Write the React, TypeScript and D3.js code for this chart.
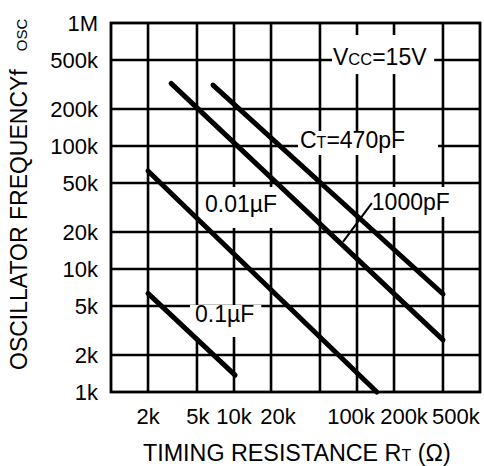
import React, { useEffect, useRef } from "react";
import * as d3 from "d3";

const W = 484;
const H = 466;

// axis ticks
const gridValues = [2e3, 5e3, 1e4, 2e4, 5e4, 1e5, 2e5, 5e5];
const xTickValues = [2e3, 5e3, 1e4, 2e4, 1e5, 2e5, 5e5];
const xTickLabels = ["2k", "5k", "10k", "20k", "100k", "200k", "500k"];
const yTickValues = [1e6, 5e5, 2e5, 1e5, 5e4, 2e4, 1e4, 5e3, 2e3, 1e3];
const yTickLabels = ["1M", "500k", "200k", "100k", "50k", "20k", "10k", "5k", "2k", "1k"];

// series: timing resistance RT (ohm) -> oscillator frequency (Hz)
const ct470pF = [
  { r: 6.75e3, f: 313e3 },
  { r: 500e3, f: 6.26e3 },
];
const ct1000pF = [
  { r: 3.08e3, f: 323e3 },
  { r: 500e3, f: 2.65e3 },
];
const ct001uF = [
  { r: 2e3, f: 62.6e3 },
  { r: 145e3, f: 1e3 },
];
const ct01uF = [
  { r: 2e3, f: 6.34e3 },
  { r: 10.2e3, f: 1.37e3 },
];
const seriesList = [ct470pF, ct1000pF, ct001uF, ct01uF];

export default function App() {
  const ref = useRef<SVGSVGElement | null>(null);

  useEffect(() => {
    const svg = d3.select(ref.current);
    svg.selectAll("*").remove();
    const FONT = "Liberation Sans, Arial, Helvetica, sans-serif";

    const x = d3.scaleLog().domain([1e3, 1e6]).range([111, 480]);
    const y = d3.scaleLog().domain([1e3, 1e6]).range([392, 23]);
    const [x0, x1] = x.range();
    const [y0, y1] = y.range();

    const gGrid = svg.append("g").attr("stroke", "#000").attr("stroke-width", 2.6);
    gGrid
      .selectAll("line.v")
      .data(gridValues)
      .join("line")
      .attr("x1", (d) => x(d))
      .attr("x2", (d) => x(d))
      .attr("y1", y1)
      .attr("y2", y0);
    gGrid
      .selectAll("line.h")
      .data(gridValues)
      .join("line")
      .attr("class", "h")
      .attr("y1", (d) => y(d))
      .attr("y2", (d) => y(d))
      .attr("x1", x0)
      .attr("x2", x1);

    const boxLayer = svg.append("g");
    const curveLayer = svg.append("g");
    const textLayer = svg.append("g").attr("font-family", FONT).attr("fill", "#000");

    svg
      .append("rect")
      .attr("x", x0)
      .attr("y", y1)
      .attr("width", x1 - x0)
      .attr("height", y0 - y1)
      .attr("fill", "none")
      .attr("stroke", "#000")
      .attr("stroke-width", 2.8);

    const line = d3
      .line<{ r: number; f: number }>()
      .x((d) => x(d.r))
      .y((d) => y(d.f));
    curveLayer
      .selectAll("path")
      .data(seriesList)
      .join("path")
      .attr("d", (d) => line(d) as string)
      .attr("fill", "none")
      .attr("stroke", "#000")
      .attr("stroke-width", 5)
      .attr("stroke-linecap", "round");

    // annotations: [parts], anchor in data coords, box padding [l,t,r,b]
    type Part = { t: string; s: number };
    const annots: { parts: Part[]; r: number; f: number; pad: number[] }[] = [
      { parts: [{ t: "V", s: 23 }, { t: "CC", s: 16.5 }, { t: "=15V", s: 23 }], r: 63.8e3, f: 455e3, pad: [1, 9, 7, 4] },
      { parts: [{ t: "C", s: 23 }, { t: "T", s: 16 }, { t: "=470pF", s: 23 }], r: 34.4e3, f: 96.3e3, pad: [2, -4, 33, 2] },
      { parts: [{ t: "1000pF", s: 23 }], r: 132e3, f: 30.2e3, pad: [2, 2, 2, 2] },
      { parts: [{ t: "0.01\u00b5F", s: 23 }], r: 5.81e3, f: 29.1e3, pad: [5, 4, 8, 11] },
      { parts: [{ t: "0.1\u00b5F", s: 23 }], r: 4.82e3, f: 3.71e3, pad: [5, -4, 7, 10] },
    ];
    annots.forEach((a) => {
      const t = textLayer.append("text").attr("x", x(a.r)).attr("y", y(a.f));
      a.parts.forEach((p) => t.append("tspan").attr("font-size", p.s).text(p.t));
      const node = t.node() as SVGTextElement;
      const bb = node.getBBox();
      boxLayer
        .append("rect")
        .attr("x", bb.x - a.pad[0])
        .attr("y", bb.y - a.pad[1])
        .attr("width", bb.width + a.pad[0] + a.pad[2])
        .attr("height", bb.height + a.pad[1] + a.pad[3])
        .attr("fill", "#fff");
    });

    // leader for 1000pF
    svg
      .append("line")
      .attr("x1", x(76.9e3))
      .attr("y1", y(16.6e3))
      .attr("x2", x(132e3))
      .attr("y2", y(34.3e3))
      .attr("stroke", "#000")
      .attr("stroke-width", 2);

    // y tick labels
    textLayer
      .selectAll("text.yt")
      .data(yTickValues)
      .join("text")
      .attr("class", "yt")
      .attr("x", 98)
      .attr("y", (d) => y(d))
      .attr("dy", "0.36em")
      .attr("text-anchor", "end")
      .attr("font-size", 22)
      .text((d, i) => yTickLabels[i]);

    // x tick labels (nudged to avoid overlap as in the original)
    const nudge: Record<string, number> = { "2k": 0, "5k": 1, "10k": 0, "20k": 7, "100k": -6, "200k": 10, "500k": 13 };
    textLayer
      .selectAll("text.xt")
      .data(xTickValues)
      .join("text")
      .attr("class", "xt")
      .attr("x", (d, i) => x(d) + nudge[xTickLabels[i]])
      .attr("y", 424)
      .attr("text-anchor", "middle")
      .attr("font-size", 22)
      .text((d, i) => xTickLabels[i]);

    // x title
    const xt = textLayer.append("text").attr("x", 143).attr("y", 461).attr("font-size", 23.3);
    xt.append("tspan").text("TIMING RESISTANCE R");
    xt.append("tspan").attr("font-size", 16).text("T");
    xt.append("tspan").text(" (\u03a9)");

    // y title
    const yt = textLayer
      .append("text")
      .attr("transform", "translate(27,370) rotate(-90)")
      .attr("font-size", 23);
    yt.append("tspan").text("OSCILLATOR FREQUENCYf");
    yt.append("tspan").attr("font-size", 15).attr("dx", 18).text("OSC");
  }, []);

  return (
    <svg ref={ref} width={W} height={H} style={{ display: "block", position: "absolute", left: 0, top: 0 }} />
  );
}
